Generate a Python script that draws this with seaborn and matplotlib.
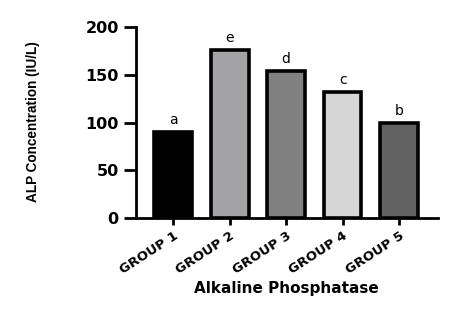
import matplotlib
matplotlib.use("Agg")
import matplotlib.pyplot as plt
import seaborn as sns
import pandas as pd

groups = ["GROUP 1", "GROUP 2", "GROUP 3", "GROUP 4", "GROUP 5"]
values = [90, 176, 154, 132, 100]
letters = ["a", "e", "d", "c", "b"]
colors = ["#000000", "#a2a2a6", "#808080", "#d6d6d6", "#626262"]

sns.set_theme(style="white")
plt.rcParams['font.family'] = ['DejaVu Sans']
plt.rcParams['text.color'] = 'black'
plt.rcParams['xtick.color'] = 'black'
plt.rcParams['ytick.color'] = 'black'
plt.rcParams['axes.labelcolor'] = 'black'

df = pd.DataFrame({"group": groups, "value": values})

fig = plt.figure(figsize=(4.71, 3.13), dpi=100)
ax = fig.add_axes([0.289, 0.3035, 0.641, 0.6102])
sns.barplot(data=df, x="group", y="value", hue="group", palette=colors,
            width=0.67, edgecolor="black", linewidth=2.6, legend=False, ax=ax)

for i, (v, l) in enumerate(zip(values, letters)):
    ax.text(i, v + 5, l, ha="center", va="bottom", fontsize=10, color="black")

ax.set_ylim(0, 200)
ax.set_xlim(-0.655, 4.69)
ax.set_yticks([0, 50, 100, 150, 200])
ax.set_yticklabels(["0", "50", "100", "150", "200"], fontsize=11.5, fontweight="bold",
                   color="black")
ax.set_xticks(range(len(groups)))
ax.set_xticklabels(groups, rotation=33, ha="right", va="top", rotation_mode="anchor",
                   fontsize=9.5, fontweight="bold", color="black")
ax.tick_params(axis="y", length=9, width=2.0, direction="out", left=True, pad=3.5)
ax.tick_params(axis="x", length=5, width=2.0, direction="out", bottom=True, pad=3)
for s in ["top", "right"]:
    ax.spines[s].set_visible(False)
for s in ["left", "bottom"]:
    ax.spines[s].set_linewidth(2.0)
    ax.spines[s].set_color("black")
ax.set_xlabel("")
ax.set_ylabel("")
fig.text(286.5 / 471, 1 - 289 / 313, "Alkaline Phosphatase", ha="center", va="center",
         fontsize=11, fontweight="bold", color="black")
fig.text(33 / 471, 1 - 121.5 / 313, "ALP Concentration (IU/L)", rotation=90,
         ha="center", va="center", fontsize=9.8, fontweight="bold", color="black",
         family=["Liberation Sans Narrow", "Liberation Sans", "DejaVu Sans"])

fig.savefig("out.png", dpi=100)
